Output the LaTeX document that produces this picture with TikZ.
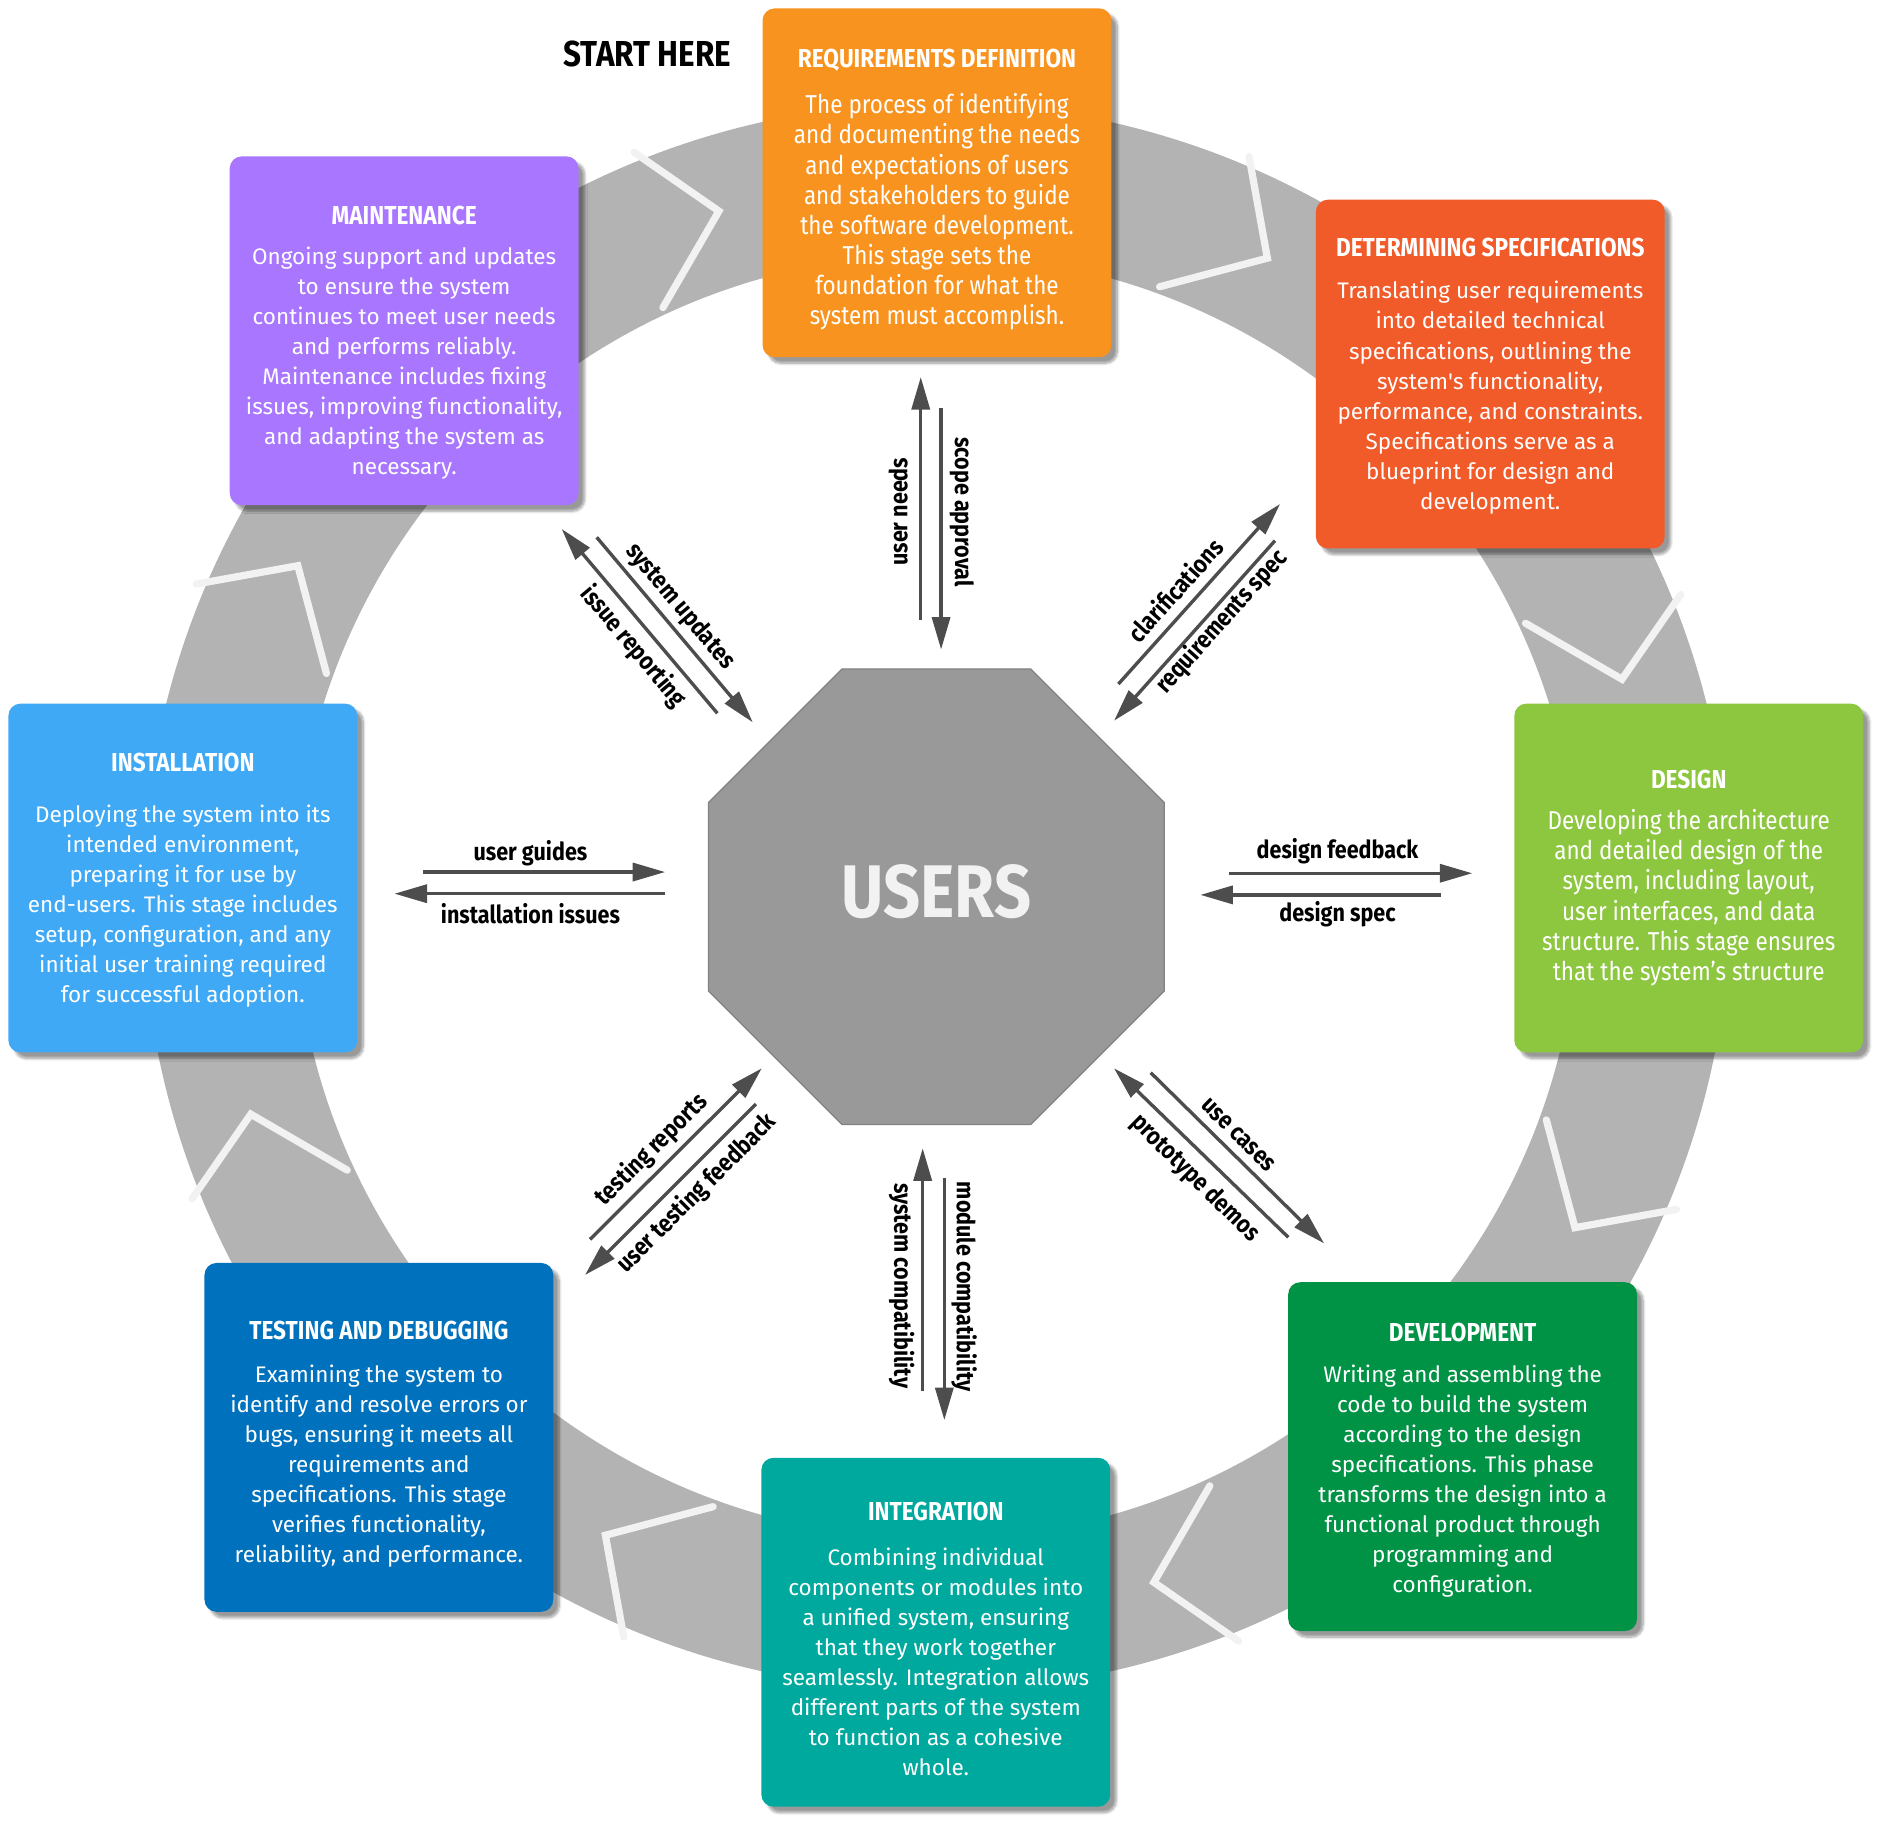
\documentclass[tikz,border=0pt]{standalone}
\usepackage{fontspec}
\setmainfont{Fira Sans}
\newfontfamily\condfont{Fira Sans}[FakeStretch=0.87]
\usetikzlibrary{positioning,arrows.meta,calc,shapes.geometric,shadows.blur}
\definecolor{reqorange}{HTML}{F7931E}
\definecolor{specred}{HTML}{F15A29}
\definecolor{designgreen}{HTML}{8DC63F}
\definecolor{devgreen}{HTML}{009245}
\definecolor{integteal}{HTML}{00A99D}
\definecolor{testblue}{HTML}{0071BC}
\definecolor{instblue}{HTML}{3FA9F5}
\definecolor{maintpurple}{HTML}{A876FF}
\definecolor{ringgray}{HTML}{B3B3B3}
\definecolor{usergray}{HTML}{999999}
\definecolor{arrowgray}{HTML}{4D4D4D}
\definecolor{chevwhite}{HTML}{F2F2F2}
% title line: [gap below][shift of the whole text]{title}
\NewDocumentCommand{\stagehead}{O{12pt} O{0pt} m}{{\condfont\bfseries\fontsize{21.6}{25}\selectfont\rule{0pt}{\dimexpr15pt+2\dimexpr#2\relax\relax}#3}\\[#1]}

\begin{document}
\begin{tikzpicture}[x=1pt,y=-1pt,
  stage/.style={rounded corners=10pt,minimum width=290pt,minimum height=290pt,inner sep=0pt,align=center,text=white,
    font=\fontsize{18.7}{25}\selectfont,
    blur shadow={shadow xshift=5pt,shadow yshift=-5pt,shadow blur steps=8,shadow opacity=40}},
  narrow/.style={font=\condfont\fontsize{21.5}{25}\selectfont},
  flow/.style={draw=arrowgray,line width=2.8pt,-{Triangle[length=27pt,width=15pt]}},
  lbl/.style={inner sep=0pt,font=\condfont\bfseries\fontsize{20.6}{23}\selectfont},
  chev/.style={draw=chevwhite,line width=6pt,line cap=round,line join=miter}]
\useasboundingbox (0,0) rectangle (1568,1521);
\coordinate (ctr) at (778.5,745.5);

% ring and chevrons
\draw[ringgray,line width=126pt] (ctr) circle[radius=597pt];
\foreach \k in {0,...,7}{
  \pgfmathsetmacro\a{107.6-45*\k}
  \draw[chev] ($(ctr)+(\a+4.5:668pt)$) -- ($(ctr)+(\a:598pt)$) -- ($(ctr)+(\a+7.3:540pt)$);
}

% stages
\node[stage,narrow,fill=reqorange] (req) at (779,152) {\stagehead[14pt][5.5pt]{REQUIREMENTS DEFINITION}The process of identifying\\and documenting the needs\\and expectations of users\\and stakeholders to guide\\the software development.\\This stage sets the\\foundation for what the\\system must accomplish.};
\node[stage,fill=specred] (spec) at (1239,311) {\stagehead[10pt][2pt]{DETERMINING SPECIFICATIONS}Translating user requirements\\into detailed technical\\specifications, outlining the\\system\textquotesingle s functionality,\\performance, and constraints.\\Specifications serve as a\\blueprint for design and\\development.};
\node[stage,narrow,fill=designgreen] (design) at (1404,730) {\stagehead[9pt]{DESIGN}Developing the architecture\\and detailed design of the\\system, including layout,\\user interfaces, and data\\structure. This stage ensures\\that the system’s structure};
\node[stage,fill=devgreen] (dev) at (1216,1211) {\stagehead[9pt][3pt]{DEVELOPMENT}Writing and assembling the\\code to build the system\\according to the design\\specifications. This phase\\transforms the design into a\\functional product through\\programming and\\configuration.};
\node[stage,fill=integteal] (integ) at (778,1357) {\stagehead[12pt][6pt]{INTEGRATION}Combining individual\\components or modules into\\a unified system, ensuring\\that they work together\\seamlessly. Integration allows\\different parts of the system\\to function as a cohesive\\whole.};
\node[stage,fill=testblue] (test) at (315,1195) {\stagehead[10pt][6pt]{TESTING AND DEBUGGING}Examining the system to\\identify and resolve errors or\\bugs, ensuring it meets all\\requirements and\\specifications. This stage\\verifies functionality,\\reliability, and performance.};
\node[stage,fill=instblue] (inst) at (152,730) {\stagehead[17pt][2pt]{INSTALLATION}Deploying the system into its\\intended environment,\\preparing it for use by\\end-users. This stage includes\\setup, configuration, and any\\initial user training required\\for successful adoption.};
\node[stage,fill=maintpurple] (maint) at (336,275) {\stagehead[8pt][10pt]{MAINTENANCE}Ongoing support and updates\\to ensure the system\\continues to meet user needs\\and performs reliably.\\Maintenance includes fixing\\issues, improving functionality,\\and adapting the system as\\necessary.};

\node[font=\condfont\bfseries\fontsize{30}{32}\selectfont] (start) at (538,45) {START HERE};

% users
\node[regular polygon,regular polygon sides=8,minimum size=410pt,inner sep=0pt,fill=usergray,draw=usergray!85!black,line width=1pt,
  text=chevwhite,text depth=10pt,font=\condfont\bfseries\fontsize{62}{64}\selectfont] (users) at (ctr) {USERS};

% arrow ends
\coordinate (un-a) at (765.5,515.5);  \coordinate (un-b) at (765.5,313.5);
\coordinate (sa-a) at (782.4,339);    \coordinate (sa-b) at (782.4,540);
\coordinate (sc-a) at (767.1,1156.5); \coordinate (sc-b) at (767.1,954.7);
\coordinate (mc-a) at (785.1,979.1);  \coordinate (mc-b) at (785.1,1180.6);
\coordinate (ir-a) at (596.4,593.0);  \coordinate (ir-b) at (467.0,439.8);
\coordinate (su-a) at (496.1,446.7);  \coordinate (su-b) at (625.8,600.5);
\coordinate (cl-a) at (929.8,568.7);  \coordinate (cl-b) at (1064.2,419.0);
\coordinate (rs-a) at (1060.0,449.5); \coordinate (rs-b) at (926.2,599.2);
\coordinate (tr-a) at (490.5,1030.4); \coordinate (tr-b) at (633.3,888.2);
\coordinate (uf-a) at (628.5,917.9);  \coordinate (uf-b) at (486.4,1060.0);
\coordinate (pd-a) at (1071.1,1028.7);\coordinate (pd-b) at (926.2,888.2);
\coordinate (uc-a) at (956.7,891.8);  \coordinate (uc-b) at (1100.8,1033.7);
\coordinate (ug-a) at (352,725);      \coordinate (ug-b) at (553,725);
\coordinate (ii-a) at (553,743);      \coordinate (ii-b) at (328,743);
\coordinate (df-a) at (1022,726);     \coordinate (df-b) at (1224,726);
\coordinate (ds-a) at (1198,744);     \coordinate (ds-b) at (998,744);

% flows
\foreach \f in {un,sa,sc,mc,ir,su,cl,rs,tr,uf,pd,uc,ug,ii,df,ds}
  \draw[flow] (\f-a) -- (\f-b);

% flow labels
\node[lbl,rotate=90] (un-l) at (746.8,425.4) {user needs};
\node[lbl,rotate=-90] (sa-l) at (799.5,425.7) {scope approval};
\node[lbl,rotate=-90] (sc-l) at (749.6,1068.9) {system compatibility};
\node[lbl,rotate=-90] (mc-l) at (801.5,1069.7) {module compatibility};
\node[lbl,rotate=-49.9] (su-l) at (565.4,504.4) {system updates};
\node[lbl,rotate=-49.9] (ir-l) at (526.5,537.6) {issue reporting};
\node[lbl,rotate=48.1] (cl-l) at (976.9,490.5) {clarifications};
\node[lbl,rotate=48.1] (rs-l) at (1015.7,516.9) {requirements spec};
\node[lbl,rotate=44.9] (tr-l) at (541.8,956.1) {testing reports};
\node[lbl,rotate=44.9] (uf-l) at (579.2,992.1) {user testing feedback};
\node[lbl,rotate=-44.6] (uc-l) at (1029.5,943.6) {use cases};
\node[lbl,rotate=-44.6] (pd-l) at (993.5,979.7) {prototype demos};
\node[lbl] (ug-l) at (441,709) {user guides};
\node[lbl] (ii-l) at (441,760) {installation issues};
\node[lbl] (df-l) at (1112,708) {design feedback};
\node[lbl] (ds-l) at (1112,760) {design spec};
\end{tikzpicture}
\end{document}
